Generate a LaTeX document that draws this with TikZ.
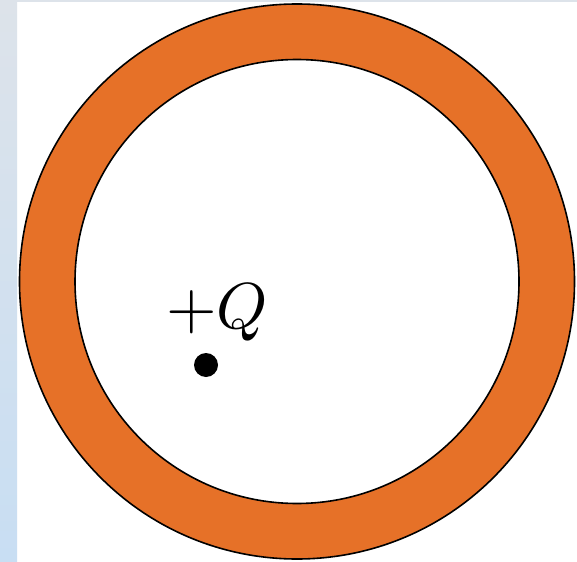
\documentclass[tikz,border=0pt]{standalone}
\usepackage{graphicx}
\usepackage{tikz}
\definecolor{shellorange}{HTML}{E67128}
\definecolor{stripetop}{HTML}{DDE3EA}
\definecolor{stripebottom}{HTML}{C8DEF3}
\tikzset{
  shell/.style={fill=shellorange, draw=black, line width=1.6pt, even odd rule},
  charge/.style={circle, fill=black, inner sep=0pt, minimum size=24pt}
}
\begin{document}
\begin{tikzpicture}[x=1pt, y=-1pt]
\useasboundingbox (0,0) rectangle (577,561);
% page background
\fill[white] (0,0) rectangle (577,561);
\shade[top color=stripetop, bottom color=stripebottom] (0,0) rectangle (17,561);
\fill[stripetop] (17,0) rectangle (577,2);
% conducting shell
\draw[shell] (297,281.5) circle[radius=277.5] (297,281.5) circle[radius=222];
% point charge
\node[charge] (q) at (206,365) {};
\node[inner sep=0pt, anchor=base west] (qlabel) at (166,328) {\scalebox{6.5}{$+Q$}};
\end{tikzpicture}
\end{document}
